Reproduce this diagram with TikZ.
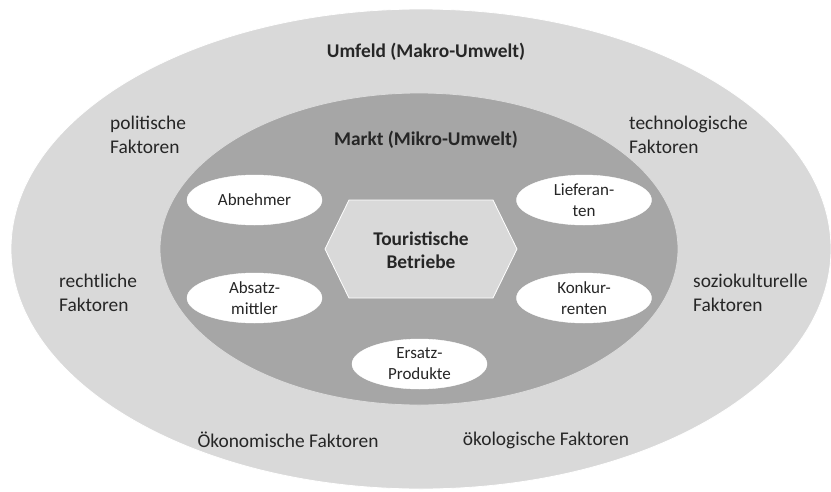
\documentclass[tikz,border=0pt]{standalone}
\usepackage{fontspec}
\setmainfont{Carlito}
\usetikzlibrary{shapes.geometric}
\definecolor{outerg}{HTML}{D9D9D9}
\definecolor{innerg}{HTML}{A6A6A6}
\definecolor{txt}{HTML}{262626}
\begin{document}
\begin{tikzpicture}[x=1pt,y=-1pt,
  zone/.style={ellipse, inner sep=0pt, draw=white, line width=0.8pt},
  actor/.style={ellipse, inner sep=0pt, fill=white, draw=white,
    minimum width=135pt, minimum height=50pt, text=txt, align=center,
    font=\fontsize{17}{21}\selectfont},
  factor/.style={inner sep=0pt, text=txt, align=left,
    font=\fontsize{19.4}{23.5}\selectfont},
  heading/.style={inner sep=0pt, text=txt, align=center,
    font=\fontsize{19.4}{23.5}\selectfont\bfseries}]
\useasboundingbox (0,0) rectangle (831,491);
% zones
\node[zone, fill=outerg, minimum width=820pt, minimum height=480pt] (umfeld) at (421,249) {};
\node[zone, fill=innerg, draw=white!60!innerg, minimum width=518pt, minimum height=312pt] (markt) at (419,249) {};
% hexagon
\filldraw[fill=outerg, draw=white, line width=0.8pt]
  (325,249) -- (349,200) -- (493,200) -- (517,249) -- (493,298) -- (349,298) -- cycle;
\node[heading] (betriebe) at (421,250) {Touristische\\Betriebe};
% headings
\node[heading] (umfeldtitle) at (426,52) {Umfeld (Makro-Umwelt)};
\node[heading] (markttitle) at (426,140) {Markt (Mikro-Umwelt)};
% factors
\node[factor, anchor=west] (pol) at (110,135) {politische\\Faktoren};
\node[factor, anchor=west] (tech) at (629,135) {technologische\\Faktoren};
\node[factor, anchor=west] (recht) at (59,293) {rechtliche\\Faktoren};
\node[factor, anchor=west] (sozio) at (693,293) {soziokulturelle\\Faktoren};
\node[factor] (oekon) at (288,440) {Ökonomische Faktoren};
\node[factor] (oekol) at (546,440) {ökologische Faktoren};
% market actors
\node[actor] (abnehmer) at (254.5,200) {Abnehmer};
\node[actor] (lieferanten) at (584,200) {Lieferan-\\ten};
\node[actor] (absatz) at (254.5,298) {Absatz-\\mittler};
\node[actor] (konkur) at (584,298) {Konkur-\\renten};
\node[actor] (ersatz) at (419.5,364) {Ersatz-\\Produkte};
\end{tikzpicture}
\end{document}
